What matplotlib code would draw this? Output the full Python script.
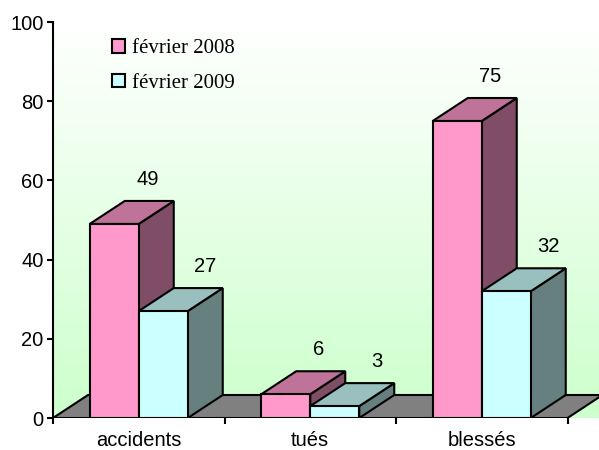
import numpy as np
import matplotlib
matplotlib.use("Agg")
import matplotlib.pyplot as plt
from matplotlib.patches import Polygon, Rectangle, Patch

categories = ["accidents", "tués", "blessés"]
series_names = ["février 2008", "février 2009"]
values_2008 = [49, 6, 75]
values_2009 = [27, 3, 32]

front_colors = ["#ff99cc", "#ccffff"]
top_colors = ["#bf7399", "#99bfbf"]
side_colors = ["#804d66", "#668080"]

plt.rcParams['font.family'] = ['Liberation Sans', 'DejaVu Sans']

fig = plt.figure(figsize=(5.99, 4.5), dpi=100)
ax = fig.add_axes([53 / 599, 32 / 450, 546 / 599, 396 / 450])
ax.set_xlim(0, 546 / 171.5)
ax.set_ylim(0, 100)

# green gradient wall
grad = np.linspace(0, 1, 256).reshape(-1, 1)
cmap = matplotlib.colors.LinearSegmentedColormap.from_list("wall", ["#ffffff", "#ccffcc"])
ax.imshow(grad, cmap=cmap, aspect='auto', extent=[0, 546 / 171.5, 0, 100],
          origin='upper', zorder=0)

w = 49 / 171.5      # bar width in category units
dx = 35 / 171.5     # depth offset x
dy = 23 / 3.96      # depth offset y
lw = 1.5

# floor
ax.add_patch(Polygon([(0, 0), (3, 0), (3 + dx, dy), (dx, dy)], closed=True,
                     facecolor="#808080", edgecolor="black", lw=lw, zorder=1))

series = [values_2008, values_2009]
label_shift = [-0.01, 0.04]
for i in range(len(categories)):
    for s, vals in enumerate(series):
        v = vals[i]
        x0 = i + 0.5 - w + s * w
        side = [(x0 + w, 0), (x0 + w + dx, dy), (x0 + w + dx, v + dy), (x0 + w, v)]
        top = [(x0, v), (x0 + w, v), (x0 + w + dx, v + dy), (x0 + dx, v + dy)]
        ax.add_patch(Polygon(side, closed=True, facecolor=side_colors[s],
                             edgecolor="black", lw=lw, joinstyle='miter', zorder=2))
        ax.add_patch(Polygon(top, closed=True, facecolor=top_colors[s],
                             edgecolor="black", lw=lw, joinstyle='miter', zorder=2))
        ax.add_patch(Rectangle((x0, 0), w, v, facecolor=front_colors[s],
                               edgecolor="black", lw=lw, joinstyle='miter', zorder=2))
        ax.text(x0 + w / 2 + dx + label_shift[s], v + dy + 5.5, str(v),
                ha='center', va='center', fontsize=14.5, zorder=3)

# axes styling
for sp in ["top", "right", "bottom"]:
    ax.spines[sp].set_visible(False)
ax.spines["left"].set_linewidth(lw)
ax.set_yticks(range(0, 101, 20))
ax.tick_params(axis='y', direction='out', length=4.3, width=lw, labelsize=14.5, pad=2.5)
ax.set_xticks([0, 1, 2, 3])
ax.set_xticklabels([])
ax.tick_params(axis='x', which='major', direction='out', length=4.3, width=lw)
ax.set_xticks([0.5, 1.5, 2.5], minor=True)
ax.set_xticklabels(categories, minor=True)
ax.tick_params(axis='x', which='minor', length=0, labelsize=14.5, pad=9.5)

handles = [Patch(facecolor=front_colors[k], edgecolor="black", lw=lw) for k in range(2)]
fig.legend(handles, series_names, loc='upper left',
           bbox_to_anchor=(112 / 599, 1 - 39 / 450), frameon=False,
           prop={'family': 'Liberation Serif', 'size': 15},
           handlelength=0.62, handleheight=0.62, handletextpad=0.35,
           labelspacing=0.75, borderpad=0, borderaxespad=0)

fig.savefig("out.png", dpi=100)
